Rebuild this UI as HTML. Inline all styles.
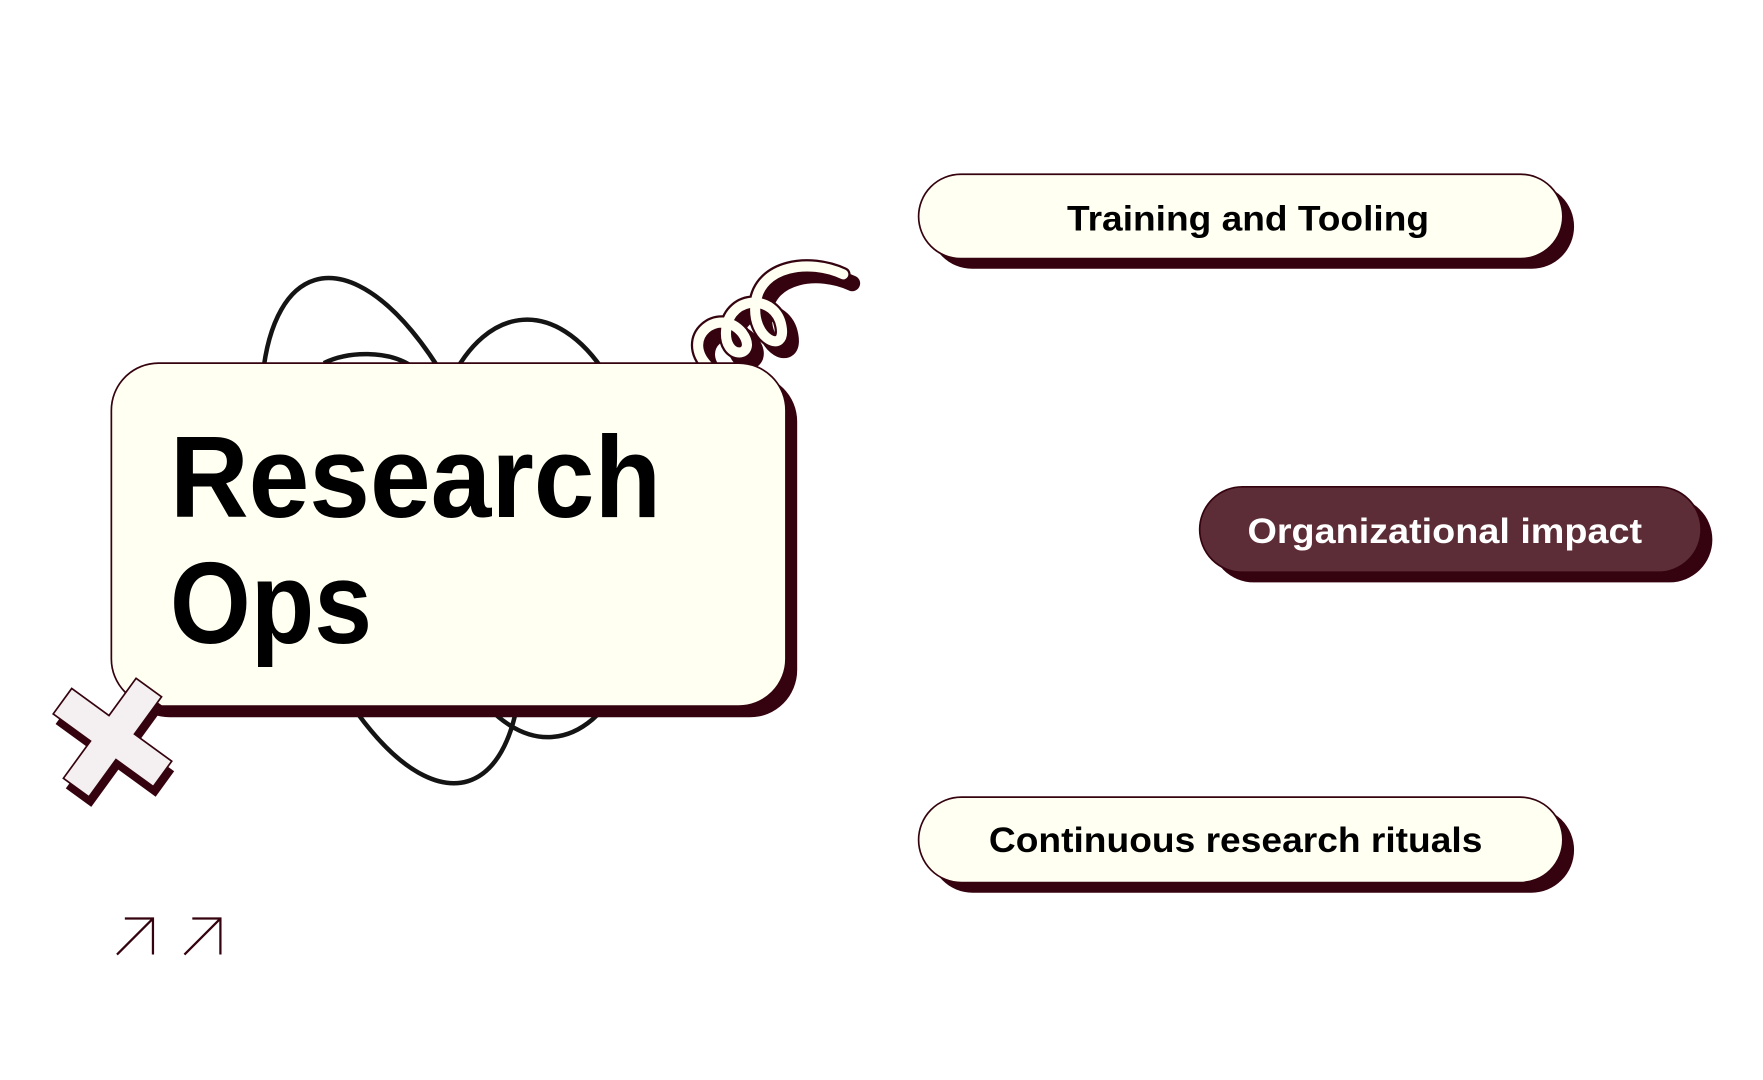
<!DOCTYPE html>
<html><head><meta charset="utf-8"><style>
html,body{margin:0;padding:0;background:#fff;}
svg{display:block;}
text{font-family:"Liberation Sans",sans-serif;font-weight:bold;}
</style></head><body>
<svg width="1763" height="1080" viewBox="0 0 1568 960.6" xmlns="http://www.w3.org/2000/svg">
<rect width="1568" height="960.6" fill="#fff"/>
<!-- background loops -->
<g fill="none" stroke="#141414" stroke-width="4">
<ellipse cx="348" cy="472" rx="98" ry="233" transform="rotate(-17 348 472)"/>
<ellipse cx="478" cy="470" rx="100" ry="186" transform="rotate(-4 478 470)"/>
<path d="M288 323 C 310 312, 345 312, 365 325"/>
</g>
<!-- spiral -->
<g fill="none" stroke-linecap="round" stroke-linejoin="round">
<path d="M630 326 C 604 300, 640 272, 660 296 C 676 318, 642 322, 646 292 C 650 262, 690 262, 695 290 C 700 316, 668 302, 672 270 C 676 236, 720 230, 750 244" transform="translate(8 8)" stroke="#35030f" stroke-width="14"/>
<path d="M630 326 C 604 300, 640 272, 660 296 C 676 318, 642 322, 646 292 C 650 262, 690 262, 695 290 C 700 316, 668 302, 672 270 C 676 236, 720 230, 750 244" stroke="#35030f" stroke-width="13"/>
<path d="M630 326 C 604 300, 640 272, 660 296 C 676 318, 642 322, 646 292 C 650 262, 690 262, 695 290 C 700 316, 668 302, 672 270 C 676 236, 720 230, 750 244" stroke="#fffff2" stroke-width="9"/>
</g>
<!-- main box -->
<rect x="109" y="333" width="600" height="305" rx="42" fill="#35030f"/>
<rect x="99" y="323" width="600" height="305" rx="42" fill="#fffff2" stroke="#35030f" stroke-width="1.5"/>
<text x="151" y="460" font-size="103" fill="#000" textLength="437" lengthAdjust="spacingAndGlyphs">Research</text>
<text x="151" y="572" font-size="103" fill="#000" textLength="180" lengthAdjust="spacingAndGlyphs">Ops</text>
<!-- cross -->
<g transform="translate(100 656) rotate(36)">
<path d="M-14 -55 h28 v41 h41 v28 h-41 v41 h-28 v-41 h-41 v-28 h41 z" fill="#35030f" transform="translate(7 6)"/>
<path d="M-14 -55 h28 v41 h41 v28 h-41 v41 h-28 v-41 h-41 v-28 h41 z" fill="#f4eff0" stroke="#35030f" stroke-width="1.5"/>
</g>
<!-- pills -->
<rect x="827" y="164" width="573" height="75" rx="37.5" fill="#35030f"/>
<rect x="817" y="155" width="573" height="75" rx="37.5" fill="#fffff2" stroke="#35030f" stroke-width="1.5"/>
<text x="1110" y="205" font-size="31" text-anchor="middle" fill="#000" textLength="322" lengthAdjust="spacingAndGlyphs">Training and Tooling</text>
<rect x="1077" y="442" width="446" height="76" rx="38" fill="#35030f"/>
<rect x="1067" y="433" width="446" height="76" rx="38" fill="#5c2d37" stroke="#35030f" stroke-width="1.5"/>
<text x="1285" y="483" font-size="31" text-anchor="middle" fill="#fff" textLength="351" lengthAdjust="spacingAndGlyphs">Organizational impact</text>
<rect x="827" y="718" width="573" height="76" rx="38" fill="#35030f"/>
<rect x="817" y="709" width="573" height="76" rx="38" fill="#fffff2" stroke="#35030f" stroke-width="1.5"/>
<text x="1099" y="758" font-size="31" text-anchor="middle" fill="#000" textLength="439" lengthAdjust="spacingAndGlyphs">Continuous research rituals</text>
<!-- arrows -->
<g fill="none" stroke="#35030f" stroke-width="2">
<path d="M104 849 L136 817 M111 817 H136 V849"/>
<path d="M164 849 L196 817 M171 817 H196 V849"/>
</g>
</svg>
</body></html>
